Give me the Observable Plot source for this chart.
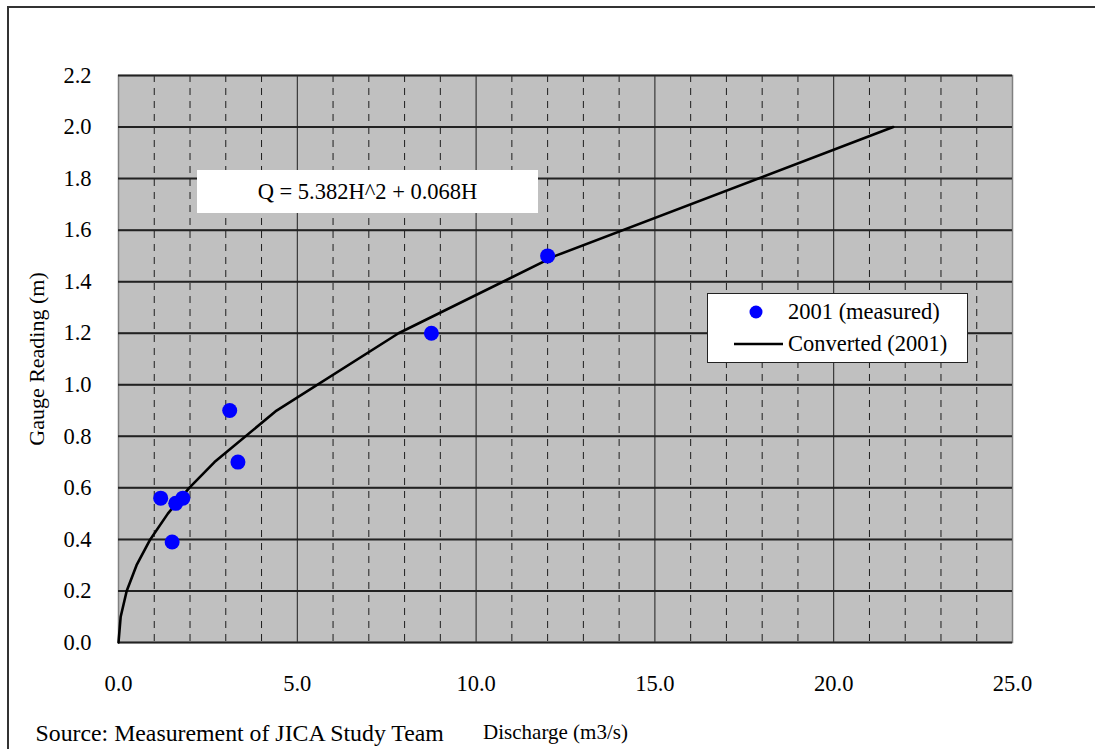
<!DOCTYPE html>
<html>
<head>
<meta charset="utf-8">
<script src="https://cdn.jsdelivr.net/npm/d3@7"></script>
<script src="https://cdn.jsdelivr.net/npm/@observablehq/plot@0.6"></script>
<style>
  html, body { margin: 0; padding: 0; background: #fff; }
  #wrap { position: relative; width: 1095px; height: 749px; overflow: hidden; font-family: "Liberation Serif", "Times New Roman", serif; }
  #outer { position: absolute; left: 7px; top: 6px; width: 1200px; height: 900px; border-left: 2px solid #333; border-top: 2px solid #333; pointer-events: none; }
  #eq { position: absolute; left: 197px; top: 170px; width: 341px; height: 43px; background: #fff; display: flex; align-items: center; justify-content: center; font-size: 22.5px; color: #000; }
  #legend { position: absolute; left: 707px; top: 293px; width: 259px; height: 68px; background: #fff; border: 1px solid #222; font-size: 22.5px; color: #000; }
  .lrow { position: absolute; left: 0; height: 26px; display: flex; align-items: center; }
  .lsym { width: 80px; position: relative; height: 26px; }
  .ltxt { white-space: nowrap; }
</style>
</head>
<body>
<div id="wrap">
  <div id="chart"></div>
</div>
<script>
// Measured gauge readings (2001)
const measuredQ = [3.11, 3.34, 1.18, 1.60, 1.80, 1.50, 8.75, 12.0];
const measuredH = [0.90, 0.70, 0.56, 0.54, 0.56, 0.39, 1.20, 1.50];
// Converted rating curve (2001)
const convertedH = [0, 0.1, 0.2, 0.3, 0.4, 0.5, 0.6, 0.7, 0.9, 1.2, 1.5, 2.0];
const convertedQ = [0, 0.061, 0.229, 0.505, 0.888, 1.380, 1.978, 2.685, 4.421, 7.832, 12.212, 21.664];
// Axis ticks
const xTicks = [0, 5, 10, 15, 20, 25];
const xMinorTicks = [1, 2, 3, 4, 6, 7, 8, 9, 11, 12, 13, 14, 16, 17, 18, 19, 21, 22, 23, 24];
const yTicks = [0, 0.2, 0.4, 0.6, 0.8, 1.0, 1.2, 1.4, 1.6, 1.8, 2.0, 2.2];
// Texts
const xLabel = "Discharge (m3/s)";
const yLabel = "Gauge Reading (m)";
const sourceText = "Source: Measurement of JICA Study Team";
const equationText = "Q = 5.382H^2 + 0.068H";
const legendLabels = ["2001 (measured)", "Converted (2001)"];

const measured = measuredQ.map((q, i) => ({q, h: measuredH[i]}));
const converted = convertedQ.map((q, i) => ({q, h: convertedH[i]}));

const chart = Plot.plot({
  width: 1095,
  height: 749,
  marginLeft: 118,
  marginRight: 83,
  marginTop: 75,
  marginBottom: 107,
  style: { fontFamily: '"Liberation Serif", "Times New Roman", serif', fontSize: "22px", background: "transparent", color: "#000", overflow: "visible" },
  x: { domain: [0, 25], nice: false },
  y: { domain: [0, 2.2], nice: false },
  marks: [
    Plot.frame({ fill: "#c0c0c0", stroke: null }),
    Plot.gridX(xMinorTicks, { stroke: "#000", strokeOpacity: 0.85, strokeWidth: 1, strokeDasharray: "7,6" }),
    Plot.gridX(xTicks, { stroke: "#000", strokeOpacity: 0.85, strokeWidth: 1 }),
    Plot.gridY(yTicks, { stroke: "#000", strokeOpacity: 0.75, strokeWidth: 1 }),
    Plot.frame({ stroke: "#808080", strokeWidth: 1.5 }),
    Plot.tickY(yTicks, { y: d => d, x1: 0, x2: 0.22, stroke: "#222", strokeWidth: 2 }),
    Plot.axisX(xTicks, { tickSize: 0, tickPadding: 33, tickFormat: d3.format(".1f"), label: null, fontSize: 22.5 }),
    Plot.axisY(yTicks, { tickSize: 0, tickPadding: 27, tickFormat: d3.format(".1f"), label: null, fontSize: 22.5 }),
    Plot.line(converted, { x: "q", y: "h", stroke: "#000", strokeWidth: 2.6 }),
    Plot.dot(measured, { x: "q", y: "h", r: 7.5, fill: "#0000ff", stroke: null }),
    Plot.text([xLabel], { frameAnchor: "bottom", dy: 96, dx: -10, lineAnchor: "bottom", fontSize: 21 }),
    Plot.text([yLabel], { frameAnchor: "left", dx: -82, rotate: -90, textAnchor: "middle", fontSize: 22 }),
    Plot.text([sourceText], { frameAnchor: "bottom-left", dx: -83, dy: 98, lineAnchor: "bottom", textAnchor: "start", fontSize: 23.8 })
  ]
});
document.getElementById("chart").appendChild(chart);

const wrap = document.getElementById("wrap");
const outer = document.createElement("div"); outer.id = "outer"; wrap.appendChild(outer);
const eq = document.createElement("div"); eq.id = "eq"; eq.textContent = equationText; wrap.appendChild(eq);

const legend = document.createElement("div"); legend.id = "legend";
legendLabels.forEach((lab, i) => {
  const row = document.createElement("div"); row.className = "lrow";
  row.style.top = (i === 0 ? 5 : 37) + "px";
  const sym = document.createElement("div"); sym.className = "lsym";
  const svgNS = "http://www.w3.org/2000/svg";
  const s = document.createElementNS(svgNS, "svg"); s.setAttribute("width", 80); s.setAttribute("height", 26);
  if (i === 0) {
    const c = document.createElementNS(svgNS, "circle");
    c.setAttribute("cx", 48); c.setAttribute("cy", 13); c.setAttribute("r", 6.5); c.setAttribute("fill", "#0000ff");
    s.appendChild(c);
  } else {
    const l = document.createElementNS(svgNS, "line");
    l.setAttribute("x1", 26); l.setAttribute("x2", 75); l.setAttribute("y1", 13); l.setAttribute("y2", 13);
    l.setAttribute("stroke", "#000"); l.setAttribute("stroke-width", 2.6);
    s.appendChild(l);
  }
  sym.appendChild(s);
  const t = document.createElement("div"); t.className = "ltxt"; t.textContent = lab;
  row.appendChild(sym); row.appendChild(t);
  legend.appendChild(row);
});
wrap.appendChild(legend);
</script>
</body>
</html>
